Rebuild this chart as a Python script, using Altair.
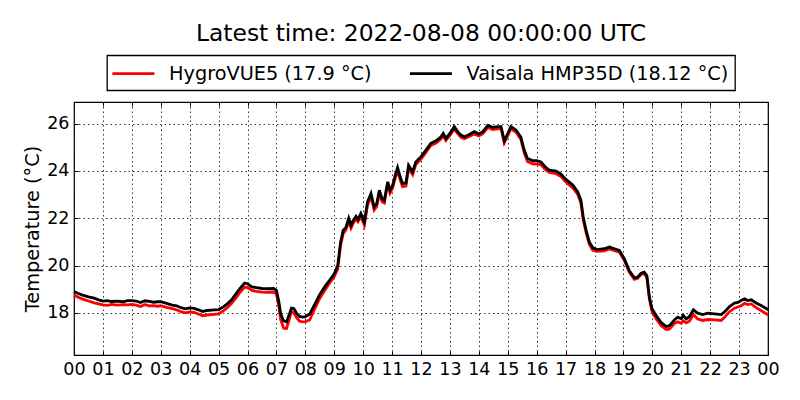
import json
import altair as alt
import pandas as pd

# ---- data ----
hours = [0.00, 0.15, 0.30, 0.50, 0.70, 0.85, 1.00, 1.15, 1.30, 1.50, 1.70, 1.85,
         2.00, 2.15, 2.30, 2.45, 2.60, 2.75, 2.90, 3.00, 3.20, 3.40, 3.55, 3.70,
         3.85, 4.00, 4.15, 4.30, 4.45, 4.60, 4.75, 5.00, 5.15, 5.30, 5.45, 5.60,
         5.75, 5.90, 6.00, 6.15, 6.30, 6.50, 6.70, 6.90, 7.00, 7.08, 7.15, 7.25,
         7.35, 7.45, 7.52, 7.60, 7.70, 7.80, 7.90, 8.00, 8.15, 8.30, 8.50, 8.70,
         8.85, 9.00, 9.12, 9.22, 9.31, 9.40, 9.50, 9.58, 9.66, 9.75, 9.82, 9.92,
         10.04, 10.15, 10.27, 10.38, 10.47, 10.56, 10.65, 10.73, 10.85, 10.93,
         11.02, 11.11, 11.19, 11.28, 11.36, 11.48, 11.57, 11.71, 11.82, 12.00,
         12.17, 12.34, 12.52, 12.69, 12.77, 12.86, 13.00, 13.15, 13.27, 13.38,
         13.50, 13.67, 13.84, 14.00, 14.14, 14.31, 14.48, 14.65, 14.77, 14.88,
         15.00, 15.11, 15.28, 15.45, 15.57, 15.68, 15.86, 16.00, 16.15, 16.32,
         16.44, 16.67, 16.84, 17.01, 17.25, 17.42, 17.53, 17.61, 17.71, 17.82,
         17.94, 18.11, 18.34, 18.51, 18.69, 18.86, 19.03, 19.20, 19.38, 19.49,
         19.61, 19.72, 19.81, 19.90, 19.99, 20.13, 20.30, 20.48, 20.59, 20.76,
         20.88, 21.00, 21.07, 21.17, 21.28, 21.42, 21.57, 21.74, 21.92, 22.15,
         22.38, 22.49, 22.67, 22.84, 22.96, 23.07, 23.19, 23.30, 23.42, 23.59,
         23.76, 23.96, 24.00]

hmp35d = [18.90, 18.82, 18.75, 18.68, 18.62, 18.55, 18.50, 18.52, 18.48, 18.50, 18.47, 18.52,
          18.52, 18.50, 18.44, 18.51, 18.49, 18.45, 18.47, 18.47, 18.40, 18.33, 18.30, 18.22,
          18.17, 18.21, 18.19, 18.13, 18.06, 18.10, 18.12, 18.14, 18.24, 18.38, 18.55, 18.80,
          19.05, 19.26, 19.23, 19.10, 19.07, 19.03, 19.02, 19.03, 18.95, 18.50, 17.95, 17.66,
          17.62, 17.95, 18.20, 18.18, 17.98, 17.85, 17.82, 17.84, 17.95, 18.30, 18.78, 19.15,
          19.40, 19.65, 20.00, 21.00, 21.49, 21.60, 22.00, 21.70, 21.92, 22.08, 21.95, 22.20,
          21.84, 22.69, 23.04, 22.48, 22.62, 23.18, 22.83, 22.76, 23.54, 23.18,
          23.40, 23.82, 24.14, 23.75, 23.47, 23.49, 24.24, 23.96, 24.38, 24.60,
          24.88, 25.16, 25.27, 25.44, 25.58, 25.37, 25.58, 25.87, 25.66, 25.51,
          25.44, 25.54, 25.66, 25.56, 25.66, 25.92, 25.84, 25.87, 25.87, 25.27,
          25.58, 25.87, 25.73, 25.44, 24.88, 24.53, 24.43, 24.43, 24.38, 24.14,
          24.03, 23.99, 23.86, 23.64, 23.40, 23.11, 22.76, 22.05, 21.49, 21.00,
          20.75, 20.67, 20.71, 20.78, 20.71, 20.64, 20.29, 19.79, 19.48, 19.51,
          19.68, 19.72, 19.58, 18.66, 18.17, 17.89, 17.60, 17.42, 17.46, 17.70,
          17.82, 17.75, 17.89, 17.75, 17.84, 18.13, 17.99, 17.93, 17.99, 17.96,
          17.93, 18.03, 18.27, 18.41, 18.44, 18.52, 18.59, 18.52, 18.55, 18.42,
          18.31, 18.17, 18.12]

hygrovue5 = [18.75, 18.66, 18.58, 18.50, 18.42, 18.38, 18.34, 18.32, 18.36, 18.33, 18.35, 18.34,
             18.36, 18.33, 18.27, 18.35, 18.30, 18.31, 18.28, 18.30, 18.23, 18.18, 18.13, 18.05,
             18.00, 18.04, 18.02, 17.95, 17.88, 17.91, 17.93, 17.96, 18.07, 18.22, 18.40, 18.63,
             18.88, 19.09, 19.07, 18.95, 18.91, 18.88, 18.87, 18.88, 18.80, 18.30, 17.70, 17.35,
             17.34, 17.75, 18.05, 18.00, 17.80, 17.65, 17.62, 17.63, 17.70, 18.10, 18.62, 19.00,
             19.28, 19.54, 19.85, 20.85, 21.35, 21.50, 21.88, 21.58, 21.80, 21.96, 21.85, 22.08,
             21.70, 22.55, 22.92, 22.35, 22.50, 23.06, 22.70, 22.64, 23.42, 23.06,
             23.28, 23.70, 24.02, 23.62, 23.33, 23.36, 24.12, 23.84, 24.27, 24.50,
             24.78, 25.07, 25.18, 25.35, 25.48, 25.28, 25.50, 25.78, 25.57, 25.42,
             25.36, 25.45, 25.56, 25.48, 25.57, 25.83, 25.75, 25.78, 25.78, 25.18,
             25.49, 25.78, 25.64, 25.34, 24.76, 24.40, 24.30, 24.29, 24.26, 24.03,
             23.93, 23.88, 23.76, 23.53, 23.28, 23.00, 22.64, 21.93, 21.38, 20.90,
             20.65, 20.60, 20.62, 20.70, 20.63, 20.56, 20.22, 19.72, 19.42, 19.46,
             19.62, 19.66, 19.50, 18.57, 18.05, 17.75, 17.47, 17.30, 17.31, 17.55,
             17.62, 17.56, 17.66, 17.58, 17.65, 17.93, 17.74, 17.68, 17.72, 17.70,
             17.68, 17.80, 18.05, 18.20, 18.25, 18.30, 18.40, 18.35, 18.38, 18.22,
             18.10, 17.95, 17.90]

series_names = ["HygroVUE5 (17.9 °C)", "Vaisala HMP35D (18.12 °C)"]
series_colors = ["#ff0000", "#000000"]
hour_ticks = list(range(25))
hour_labels = ["00", "01", "02", "03", "04", "05", "06", "07", "08", "09", "10", "11",
               "12", "13", "14", "15", "16", "17", "18", "19", "20", "21", "22", "23", "00"]
temp_ticks = [18, 20, 22, 24, 26]
title_text = "Latest time: 2022-08-08 00:00:00 UTC"
y_title = "Temperature (°C)"

df = pd.concat([
    pd.DataFrame({"hour": hours, "temp": hygrovue5, "series": series_names[0]}),
    pd.DataFrame({"hour": hours, "temp": hmp35d, "series": series_names[1]}),
], ignore_index=True)

FONT = "DejaVu Sans"
label_expr = json.dumps(hour_labels) + "[datum.value]"

xscale = alt.Scale(domain=[0, 24], nice=False, zero=False)
yscale = alt.Scale(domain=[16.22, 26.91], nice=False, zero=False)

grid_kw = dict(grid=True, gridColor="black", gridDash=[1.5, 3], gridWidth=0.8, gridOpacity=1)

x_main = alt.X("hour:Q", scale=xscale, title=None,
               axis=alt.Axis(orient="bottom", values=hour_ticks, labelExpr=label_expr,
                             offset=-4, tickSize=4, tickColor="black", tickWidth=1,
                             domain=False, labelPadding=5.5, labelFontSize=17.5,
                             labelFont=FONT, labelColor="black", labelFlush=False,
                             labelOverlap=False, **grid_kw))
y_main = alt.Y("temp:Q", scale=yscale, title=y_title,
               axis=alt.Axis(orient="left", values=temp_ticks, offset=-4, tickSize=4,
                             tickColor="black", tickWidth=1, domain=False, labelPadding=5,
                             labelFontSize=17.5, labelFont=FONT, labelColor="black",
                             titleFont=FONT, titleFontSize=19.3, titleFontWeight="normal",
                             titleColor="black", titleX=-45.6, titleY=126.5,
                             titleAngle=270, titleBaseline="middle", **grid_kw))

# legend line sample: 42 px long horizontal stroke, drawn mostly to the right of its slot
color = alt.Color("series:N", title=None,
                  scale=alt.Scale(domain=series_names, range=series_colors),
                  legend=alt.Legend(orient="none", legendX=33, legendY=-46.7,
                                    direction="horizontal", columns=2,
                                    symbolType="M-1.2,0H2.8", symbolSize=441,
                                    symbolStrokeWidth=2.8, labelOffset=32,
                                    columnPadding=31.5, padding=6, labelLimit=500,
                                    labelFont=FONT, labelFontSize=19.3,
                                    labelColor="black", strokeColor="black",
                                    fillColor="white"))

base = alt.Chart(df).mark_line(strokeWidth=2.8, interpolate="linear")

red = base.transform_filter(alt.datum.series == series_names[0]).encode(
    x=x_main, y=y_main, color=color)
black = base.transform_filter(alt.datum.series == series_names[1]).encode(
    x=x_main, y=y_main, color=color)

lines = alt.layer(red, black)

ticks = alt.Chart(df).mark_line(opacity=0).encode(
    x=alt.X("hour:Q", scale=xscale, title=None,
            axis=alt.Axis(orient="top", values=hour_ticks, offset=-4, tickSize=4,
                          tickColor="black", tickWidth=1, domain=False, labels=False,
                          grid=False)),
    y=alt.Y("temp:Q", scale=yscale, title=None,
            axis=alt.Axis(orient="right", values=temp_ticks, offset=-4, tickSize=4,
                          tickColor="black", tickWidth=1, domain=False, labels=False,
                          grid=False)),
    detail="series:N",
)

chart = alt.layer(lines, ticks).resolve_axis(
    x="independent", y="independent"
).properties(
    width=694, height=253,
    title=alt.TitleParams(title_text, font=FONT, fontSize=23.4, fontWeight="normal",
                          color="black", anchor="middle", offset=8),
    autosize=alt.AutoSizeParams(type="none"),
    padding={"left": 66, "top": 94, "right": 16, "bottom": 30},
).configure_view(
    stroke="black", strokeWidth=1.2
).configure_legend(
    strokeWidth=1.3
)

chart.save("out.html", embed_options={"renderer": "svg", "actions": False})
